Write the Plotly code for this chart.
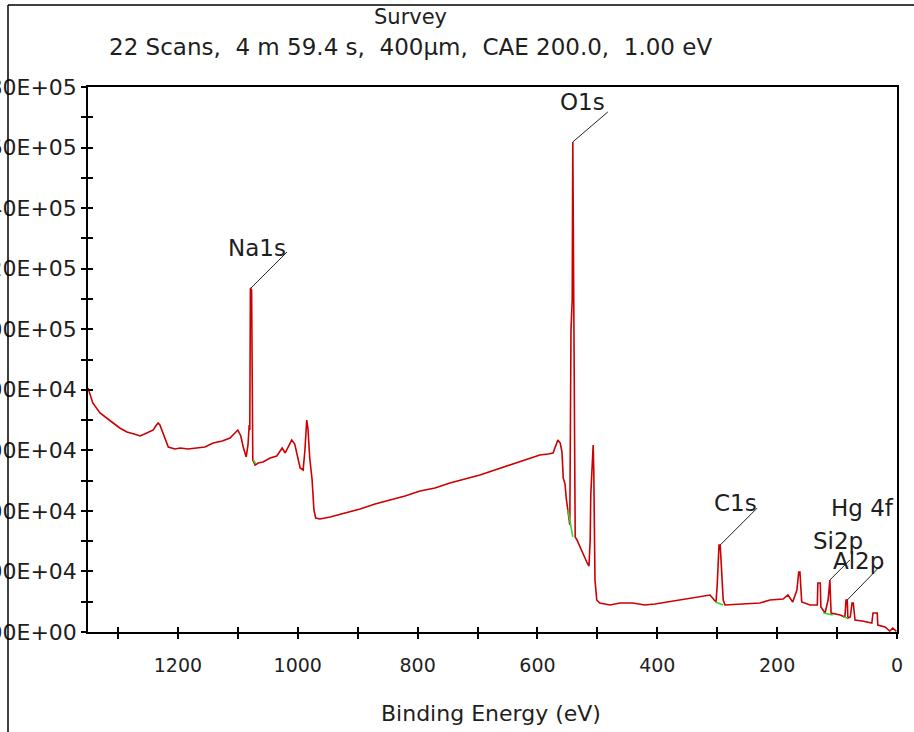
import plotly.graph_objects as go

# ---------------- data ----------------
ev = [1350, 1342, 1330, 1318, 1308, 1297, 1285, 1273, 1263, 1252, 1241, 1237, 1233, 1230, 1225,
      1216, 1205, 1196, 1183, 1168, 1155, 1141, 1126, 1113, 1103, 1100, 1095, 1091, 1086, 1083,
      1081, 1080, 1079, 1077, 1075, 1071, 1066, 1058, 1046, 1035, 1026, 1021, 1015, 1010, 1005,
      1000, 996, 991, 988, 985, 983, 980, 976, 973, 970, 963, 946, 921, 896, 871, 846, 821, 796,
      771, 746, 721, 696, 671, 646, 629, 612, 596, 582, 574, 569, 566, 562, 559, 557, 554, 552,
      549, 546, 544, 542, 541, 539, 537, 534, 529, 522, 517, 514, 512, 511, 507, 506, 504, 501,
      496, 479, 462, 441, 421, 404, 384, 357, 334, 320, 312, 305, 302, 300, 297, 295, 292, 290,
      287, 262, 229, 212, 190, 182, 174, 167, 164, 162, 159, 145, 133, 132, 128, 127, 120, 115,
      113, 112, 110, 95, 87, 85, 83, 82, 78, 75, 73, 70, 58, 50, 42, 40, 33, 32, 20, 12, 7, 1]
counts = [80590, 75640, 72340, 70680, 69030, 67380, 66060, 65400, 64740, 65730, 66720, 68040, 69030, 68370, 65730,
          61100, 60440, 60780, 60440, 60780, 61100, 62430, 63090, 64080, 66060, 66720, 64740, 61100, 57800, 61770,
          68370, 66720, 113620, 112960, 56810, 55160, 55820, 56150, 57470, 58130, 60780, 59120, 61440, 63420, 62100,
          57470, 54170, 53510, 60110, 70020, 67380, 57470, 50210, 40300, 37650, 37320, 37980, 39310, 40630, 42280, 43600, 44920, 46570,
          47560, 49210, 50540, 51860, 53510, 55160, 56150, 57470, 58460, 58790, 59120, 61770, 63420, 62430, 59450, 50870, 48880, 44260,
          40300, 35340, 99750, 109660, 161850, 97440, 31380, 30390, 28080, 25100, 22790, 21800, 30390, 45250, 61770, 53510, 17180, 10570,
          9580, 8920, 9580, 9580, 8920, 9250, 9910, 10570, 11560, 11890, 12220, 10570, 9910, 15520, 28740, 28740, 14530, 10570,
          8920, 9250, 9580, 10570, 10900, 12220, 9910, 13870, 19820, 19820, 9910, 8920, 8920, 16180, 16180, 8260, 6280, 10570,
          17180, 17180, 6280, 5620, 4950, 10570, 10570, 4620, 4950, 9580, 9580, 3960, 3630, 3300, 2970, 6280, 6280, 2310, 1650, 330, 1320, 200]

# background (peak base) segments drawn in green
bg_na_ev, bg_na_counts = [1074, 1070], [56800, 55500]
bg_o_ev, bg_o_counts = [549, 541], [40300, 31400]
bg_c_ev, bg_c_counts = [303, 290], [9900, 8920]
bg_si_ev, bg_si_counts = [123, 107], [6280, 5620]
bg_al_ev, bg_al_counts = [90, 82], [4950, 4620]

peak_names = ["Na1s", "O1s", "C1s", "Si2p", "Al2p"]
peak_ev = [1078, 541, 295, 112, 83]
peak_counts = [113620, 161850, 28740, 17180, 10570]

x_tickvals = [1200, 1000, 800, 600, 400, 200, 0]
x_ticktext = ["1200", "1000", "800", "600", "400", "200", "0"]
x_minorvals = [1300, 1100, 900, 700, 500, 300, 100]
y_tickvals = [0, 20000, 40000, 60000, 80000, 100000, 120000, 140000, 160000, 180000]
y_ticktext = ["0.00E+00", "2.00E+04", "4.00E+04", "6.00E+04", "8.00E+04",
              "1.00E+05", "1.20E+05", "1.40E+05", "1.60E+05", "1.80E+05"]
y_minorvals = [10000, 30000, 50000, 70000, 90000, 110000, 130000, 150000, 170000]

title_text = "Survey"
subtitle_text = "22 Scans,\u00a0 4 m 59.4 s,\u00a0 400µm,\u00a0 CAE 200.0,\u00a0 1.00 eV"
x_title = "Binding Energy (eV)"
extra_label = "Hg 4f"

# ---------------- style ----------------
FONT = "DejaVu Sans"
TXT = "#1e1e1e"
RED = "#cc0000"
GREEN = "#33d633"
X_RANGE = [1350, 0]
Y_RANGE = [0, 180000]
L, R, T, B = 88, 17, 87, 100
W, H = 914, 732
PW, PH = W - L - R, H - T - B


def px(xp):
    return (xp - L) / PW


def py(yp):
    return (H - B - yp) / PH


fig = go.Figure()
fig.add_trace(go.Scatter(x=ev, y=counts, mode="lines",
                         line=dict(color=RED, width=1.6), showlegend=False, hoverinfo="skip"))
for bx, by in [(bg_na_ev, bg_na_counts), (bg_o_ev, bg_o_counts), (bg_c_ev, bg_c_counts),
               (bg_si_ev, bg_si_counts), (bg_al_ev, bg_al_counts)]:
    fig.add_trace(go.Scatter(x=bx, y=by, mode="lines", line=dict(color=GREEN, width=1.6),
                             showlegend=False, hoverinfo="skip"))
# empty trace to activate overlay axes (inside half of crossing ticks)
fig.add_trace(go.Scatter(x=[], y=[], xaxis="x2", yaxis="y2", showlegend=False))

# label placement styling: text shift and leader-line end (pixels relative to peak)
text_shift = [(6, 40), (10, 40), (15, 42), (8, 39), (11, 39)]
line_end = [(36, 36), (35, 30), (37, 37), (20, 20), (36, 37)]

annotations = []
shapes = []
for name, xe, yc, (tsx, tsy), (ldx, ldy) in zip(peak_names, peak_ev, peak_counts, text_shift, line_end):
    annotations.append(dict(x=xe, y=yc, xref="x", yref="y", text=name, showarrow=False,
                            xanchor="center", yanchor="middle",
                            xshift=tsx, yshift=tsy, font=dict(family=FONT, size=23, color=TXT)))
    shapes.append(dict(type="line", xref="x", yref="y", xsizemode="pixel", ysizemode="pixel",
                       xanchor=xe, yanchor=yc, x0=0, y0=0, x1=ldx, y1=ldy,
                       line=dict(color="#222222", width=1)))


def paper_text(xp, yp, text, size):
    return dict(x=px(xp), y=py(yp), xref="paper", yref="paper", text=text, showarrow=False,
                xanchor="center", yanchor="middle", font=dict(family=FONT, size=size, color=TXT))


annotations.append(paper_text(862, 508, extra_label, 23))
annotations.append(paper_text(410, 17, title_text, 21))
annotations.append(paper_text(410, 47, subtitle_text, 23))
annotations.append(paper_text(491, 713, x_title, 22))

# outer frame lines (top and left)
shapes.append(dict(type="line", xref="paper", yref="paper", x0=px(8), x1=px(914), y0=py(5), y1=py(5),
                   line=dict(color="black", width=1.5)))
shapes.append(dict(type="line", xref="paper", yref="paper", x0=px(8), x1=px(8), y0=py(5), y1=py(732),
                   line=dict(color="black", width=1.5)))

axis_common = dict(showgrid=False, zeroline=False, automargin=False)
fig.update_layout(
    width=W, height=H,
    margin=dict(l=L, r=R, t=T, b=B, pad=0, autoexpand=False),
    paper_bgcolor="white", plot_bgcolor="white",
    showlegend=False,
    xaxis=dict(range=X_RANGE, tickmode="array", tickvals=x_tickvals, ticktext=x_ticktext,
               ticks="outside", ticklen=5, tickwidth=1.5, tickcolor="black",
               minor=dict(tickmode="array", tickvals=x_minorvals, ticks="outside", ticklen=5,
                          tickwidth=1.5, tickcolor="black"),
               showline=True, linecolor="black", linewidth=1.5, mirror=True,
               ticklabelstandoff=10,
               tickfont=dict(family=FONT, size=19, color=TXT), **axis_common),
    yaxis=dict(range=Y_RANGE, tickmode="array", tickvals=y_tickvals, ticktext=y_ticktext,
               ticks="outside", ticklen=5, tickwidth=1.5, tickcolor="black",
               minor=dict(tickmode="array", tickvals=y_minorvals, ticks="outside", ticklen=5,
                          tickwidth=1.5, tickcolor="black"),
               showline=True, linecolor="black", linewidth=1.5, mirror=True,
               tickfont=dict(family=FONT, size=22, color=TXT), **axis_common),
    xaxis2=dict(range=X_RANGE, overlaying="x", anchor="y2", side="bottom",
                tickmode="array", tickvals=x_tickvals, ticks="inside", ticklen=5, tickwidth=1.5,
                tickcolor="black", showticklabels=False, showline=False,
                minor=dict(tickmode="array", tickvals=x_minorvals, ticks="inside", ticklen=5,
                           tickwidth=1.5, tickcolor="black"), **axis_common),
    yaxis2=dict(range=Y_RANGE, overlaying="y", anchor="x2", side="left",
                tickmode="array", tickvals=y_tickvals, ticks="inside", ticklen=5, tickwidth=1.5,
                tickcolor="black", showticklabels=False, showline=False,
                minor=dict(tickmode="array", tickvals=y_minorvals, ticks="inside", ticklen=5,
                           tickwidth=1.5, tickcolor="black"), **axis_common),
    annotations=annotations,
    shapes=shapes,
)

fig.write_html("out.html")
